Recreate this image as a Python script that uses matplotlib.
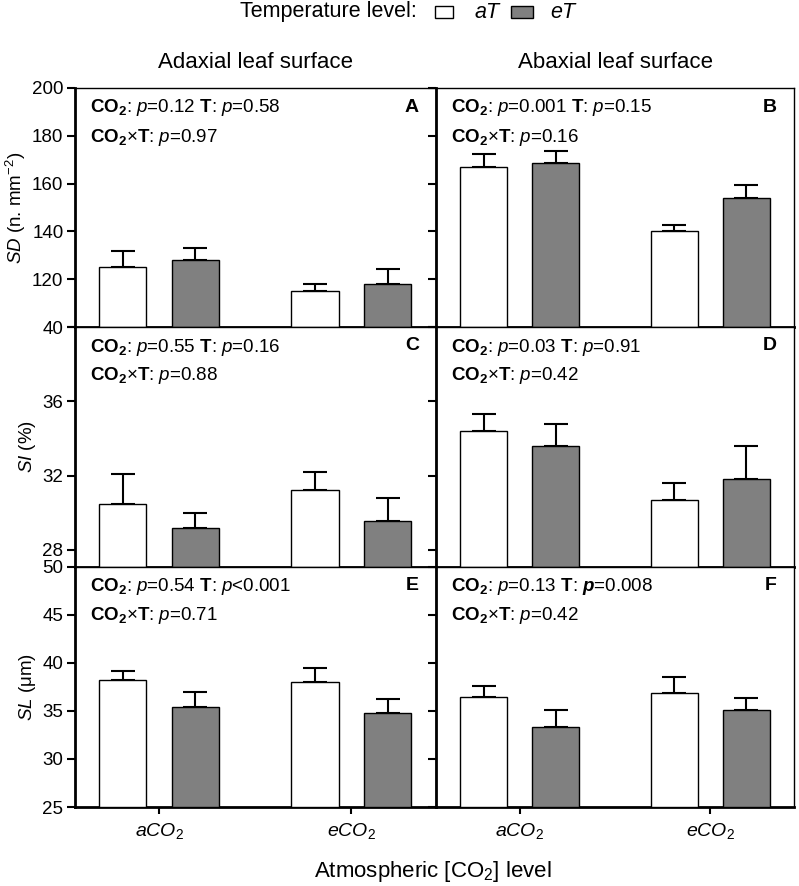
import matplotlib
matplotlib.use("Agg")
import matplotlib.pyplot as plt
import numpy as np
from matplotlib.patches import Rectangle

plt.rcParams['font.family'] = ['Liberation Sans', 'DejaVu Sans']
plt.rcParams['mathtext.fontset'] = 'custom'
plt.rcParams['mathtext.rm'] = 'Liberation Sans'
plt.rcParams['mathtext.it'] = 'Liberation Sans:italic'
plt.rcParams['mathtext.bf'] = 'Liberation Sans:bold'
plt.rcParams['mathtext.bfit'] = 'Liberation Sans:bold:italic'

# ---------------- data ----------------
co2_levels = ['aCO2', 'eCO2']
xtick_labels = [r'$\mathit{aCO}_{\mathrm{2}}$', r'$\mathit{eCO}_{\mathrm{2}}$']
temp_levels = [r'$\mathit{aT}$', r'$\mathit{eT}$']
surfaces = ['Adaxial leaf surface', 'Abaxial leaf surface']
panel_letters = ['A', 'B', 'C', 'D', 'E', 'F']

# Stomatal density (SD, n. mm-2)
sd_ad_aT = [124.9, 115.0]
sd_ad_aT_err = [7.0, 3.0]
sd_ad_eT = [128.0, 118.2]
sd_ad_eT_err = [5.0, 6.1]
sd_ab_aT = [167.0, 140.0]
sd_ab_aT_err = [5.5, 2.5]
sd_ab_eT = [168.5, 154.0]
sd_ab_eT_err = [5.0, 5.5]

# Stomatal index (SI, %)
si_ad_aT = [30.45, 31.2]
si_ad_aT_err = [1.65, 1.0]
si_ad_eT = [29.2, 29.55]
si_ad_eT_err = [0.8, 1.23]
si_ab_aT = [34.4, 30.7]
si_ab_aT_err = [0.9, 0.9]
si_ab_eT = [33.6, 31.8]
si_ab_eT_err = [1.2, 1.8]

# Stomatal length (SL, um)
sl_ad_aT = [38.16, 38.0]
sl_ad_aT_err = [0.94, 1.4]
sl_ad_eT = [35.4, 34.8]
sl_ad_eT_err = [1.6, 1.4]
sl_ab_aT = [36.4, 36.9]
sl_ab_aT_err = [1.2, 1.6]
sl_ab_eT = [33.3, 35.1]
sl_ab_eT_err = [1.8, 1.2]

stats_line1 = [
    r'$\mathbf{CO_2}$: $\mathit{p}$=0.12 $\mathbf{T}$: $\mathit{p}$=0.58',
    r'$\mathbf{CO_2}$: $\mathit{p}$=0.001 $\mathbf{T}$: $\mathit{p}$=0.15',
    r'$\mathbf{CO_2}$: $\mathit{p}$=0.55 $\mathbf{T}$: $\mathit{p}$=0.16',
    r'$\mathbf{CO_2}$: $\mathit{p}$=0.03 $\mathbf{T}$: $\mathit{p}$=0.91',
    r'$\mathbf{CO_2}$: $\mathit{p}$=0.54 $\mathbf{T}$: $\mathit{p}$<0.001',
    r'$\mathbf{CO_2}$: $\mathit{p}$=0.13 $\mathbf{T}$: $\mathbfit{p}$=0.008',
]
stats_line2 = [
    r'$\mathbf{CO_2}$×$\mathbf{T}$: $\mathit{p}$=0.97',
    r'$\mathbf{CO_2}$×$\mathbf{T}$: $\mathit{p}$=0.16',
    r'$\mathbf{CO_2}$×$\mathbf{T}$: $\mathit{p}$=0.88',
    r'$\mathbf{CO_2}$×$\mathbf{T}$: $\mathit{p}$=0.42',
    r'$\mathbf{CO_2}$×$\mathbf{T}$: $\mathit{p}$=0.71',
    r'$\mathbf{CO_2}$×$\mathbf{T}$: $\mathit{p}$=0.42',
]

ylabels = [r'$\mathit{SD}$ (n. mm$^{\mathrm{-2}}$)', r'$\mathit{SI}$ (%)', r'$\mathit{SL}$ ($\mathrm{\mu}$m)']
# axis ranges (row 1 has a broken axis: bottom tick labelled 40)
row_ylims = [(100, 200), (27.1, 40), (25, 50)]
row_yticks = [[100, 120, 140, 160, 180, 200], [28, 32, 36, 40], [25, 30, 35, 40, 45, 50]]
row_yticklabels = [['40', '120', '140', '160', '180', '200'],
                   ['28', '32', '36', ''],
                   ['25', '30', '35', '40', '45', '50']]

data = [
    [(sd_ad_aT, sd_ad_aT_err, sd_ad_eT, sd_ad_eT_err), (sd_ab_aT, sd_ab_aT_err, sd_ab_eT, sd_ab_eT_err)],
    [(si_ad_aT, si_ad_aT_err, si_ad_eT, si_ad_eT_err), (si_ab_aT, si_ab_aT_err, si_ab_eT, si_ab_eT_err)],
    [(sl_ad_aT, sl_ad_aT_err, sl_ad_eT, sl_ad_eT_err), (sl_ab_aT, sl_ab_aT_err, sl_ab_eT, sl_ab_eT_err)],
]

# ---------------- layout ----------------
W, H = 799, 886
fig = plt.figure(figsize=(W / 100, H / 100), dpi=100)

col_px = [(74.5, 436), (436, 794)]
row_px = [(88, 327), (327, 566.5), (566.5, 807)]

white = '#ffffff'
gray = '#808080'
bar_w = 0.246
off = 0.189
x = np.arange(len(co2_levels))

for r in range(3):
    for c in range(2):
        x0, x1 = col_px[c]
        y0, y1 = row_px[r]
        ax = fig.add_axes([x0 / W, 1 - y1 / H, (x1 - x0) / W, (y1 - y0) / H])
        aT, aT_err, eT, eT_err = data[r][c]
        base = row_ylims[r][0]
        for vals, errs, col, sgn in [(aT, aT_err, white, -1), (eT, eT_err, gray, 1)]:
            vals = np.array(vals)
            ax.bar(x + sgn * off, vals - base, bottom=base, width=bar_w, color=col,
                   edgecolor='black', linewidth=1.0, zorder=3)
            ax.errorbar(x + sgn * off, vals, yerr=[np.zeros_like(vals), np.array(errs)],
                        fmt='none', ecolor='black', elinewidth=1.5, capsize=8.3,
                        capthick=1.5, zorder=2)
        ax.set_xlim(-0.44, 1.44)
        ax.set_ylim(*row_ylims[r])
        ax.set_yticks(row_yticks[r])
        if c == 0:
            ax.set_yticklabels(row_yticklabels[r], fontsize=13.5)
            ax.set_ylabel(ylabels[r], fontsize=13.5, labelpad=3)
        else:
            ax.set_yticklabels([])
        ax.tick_params(axis='y', direction='out', length=6, width=1.5, pad=2)
        ax.set_xticks(x)
        if r == 2:
            ax.set_xticklabels(xtick_labels, fontsize=14)
            ax.tick_params(axis='x', direction='out', length=5, width=1.5, pad=5)
        else:
            ax.set_xticklabels([])
            ax.tick_params(axis='x', length=0)
        for s in ['left', 'bottom']:
            ax.spines[s].set_linewidth(2.0)
        for s in ['top', 'right']:
            ax.spines[s].set_linewidth(1.0)
        idx = r * 2 + c
        ax.text(15 / (x1 - x0), 1 - 20 / (y1 - y0), stats_line1[idx], transform=ax.transAxes,
                fontsize=13.5, ha='left', va='center', zorder=5)
        ax.text(15 / (x1 - x0), 1 - 49 / (y1 - y0), stats_line2[idx], transform=ax.transAxes,
                fontsize=13.5, ha='left', va='center', zorder=5)
        ax.text(1 - 17 / (x1 - x0), 1 - 19 / (y1 - y0), panel_letters[idx], transform=ax.transAxes,
                fontsize=14, fontweight='bold', ha='right', va='center', zorder=5)
        if r == 0:
            ax.text(0.5, 1 + 25 / (y1 - y0), surfaces[c], transform=ax.transAxes,
                    fontsize=16, ha='center', va='center')

# x axis title
fig.text(433 / W, 1 - 872 / H, r'Atmospheric [CO$_{\mathrm{2}}$] level', fontsize=16,
         ha='center', va='center')

# legend at top
fig.text(417 / W, 1 - 12 / H, 'Temperature level:', fontsize=15.5, ha='right', va='center')
fig.patches.append(Rectangle((435 / W, 1 - 18 / H), 18 / W, 12 / H, transform=fig.transFigure,
                             facecolor=white, edgecolor='black', linewidth=1.0))
fig.text(474 / W, 1 - 12 / H, temp_levels[0], fontsize=15.5, ha='left', va='center')
fig.patches.append(Rectangle((511 / W, 1 - 18 / H), 22 / W, 12 / H, transform=fig.transFigure,
                             facecolor=gray, edgecolor='black', linewidth=1.0))
fig.text(550 / W, 1 - 12 / H, temp_levels[1], fontsize=15.5, ha='left', va='center')

fig.savefig('out.png', dpi=100)
